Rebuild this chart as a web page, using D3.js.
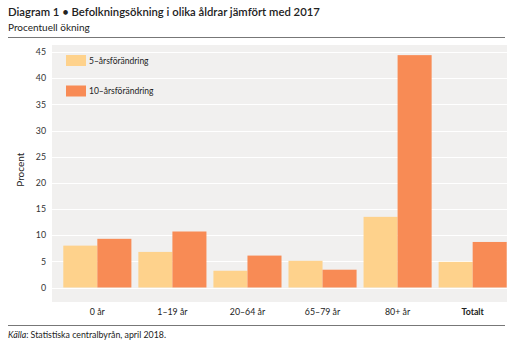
<!DOCTYPE html>
<html>
<head>
<meta charset="utf-8">
<script src="https://cdn.jsdelivr.net/npm/d3@7"></script>
<style>
  body { margin: 0; background: #fff; }
  svg { display: block; font-family: Lato, "Open Sans", sans-serif; }
</style>
</head>
<body>
<div id="chart"></div>
<script>
// data
const categories = ["0 år", "1–19 år", "20–64 år", "65–79 år", "80+ år", "Totalt"];
const series = ["5–årsförändring", "10–årsförändring"];
const change5 = [8.0, 6.8, 3.2, 5.1, 13.5, 4.9];
const change10 = [9.3, 10.7, 6.1, 3.4, 44.4, 8.7];
const yTicks = [0, 5, 10, 15, 20, 25, 30, 35, 40, 45];

const colors = ["#fed28c", "#f88b55"];

const width = 521, height = 345;

const svg = d3.select("#chart")
  .append("svg")
  .attr("width", width)
  .attr("height", height);

/* title */
svg.append("text")
  .attr("x", 8).attr("y", 16)
  .attr("font-size", 11.3)
  .attr("font-weight", 600)
  .attr("fill", "#222")
  .text("Diagram 1 • Befolkningsökning i olika åldrar jämfört med 2017");

svg.append("text")
  .attr("x", 8).attr("y", 31)
  .attr("font-size", 10)
  .attr("fill", "#222")
  .text("Procentuell ökning");

svg.append("line")
  .attr("x1", 8).attr("x2", 505)
  .attr("y1", 37.5).attr("y2", 37.5)
  .attr("stroke", "#777").attr("stroke-width", 1);

/* plot area */
const plot = { left: 52, right: 507, top: 45, bottom: 302 };

const y = d3.scaleLinear().domain([0, 45]).range([287.5, 52]);

const x0 = d3.scaleBand()
  .domain(categories)
  .range([63.3, 506.7])
  .paddingInner(0.093)
  .paddingOuter(0);

const x1 = d3.scaleBand()
  .domain(series)
  .range([0, x0.bandwidth()]);

svg.append("rect")
  .attr("x", plot.left).attr("y", plot.top)
  .attr("width", plot.right - plot.left)
  .attr("height", plot.bottom - plot.top)
  .attr("fill", "#f1f0ef");

svg.append("g")
  .selectAll("line")
  .data(yTicks)
  .join("line")
  .attr("x1", plot.left).attr("x2", plot.right)
  .attr("y1", d => Math.round(y(d)) + 0.5)
  .attr("y2", d => Math.round(y(d)) + 0.5)
  .attr("stroke", "#fff").attr("stroke-width", 1.2);

/* y axis */
const yAxis = svg.append("g")
  .attr("transform", `translate(${plot.left - 6},0)`)
  .call(d3.axisLeft(y).tickValues(yTicks).tickSize(0).tickPadding(0));
yAxis.select(".domain").remove();
yAxis.selectAll("text")
  .attr("font-size", 8.8)
  .attr("font-family", "Lato, sans-serif")
  .attr("fill", "#333");

svg.append("text")
  .attr("transform", `translate(24,${(y(0) + y(45)) / 2}) rotate(-90)`)
  .attr("text-anchor", "middle")
  .attr("font-size", 10)
  .attr("fill", "#222")
  .text("Procent");

/* bars */
const rows = categories.map((c, i) => ({ cat: c, vals: [change5[i], change10[i]] }));

svg.append("g")
  .selectAll("g")
  .data(rows)
  .join("g")
  .attr("transform", d => `translate(${x0(d.cat)},0)`)
  .selectAll("rect")
  .data(d => d.vals.map((v, j) => ({ key: series[j], v, j })))
  .join("rect")
  .attr("x", d => x1(d.key))
  .attr("y", d => y(d.v))
  .attr("width", x1.bandwidth())
  .attr("height", d => y(0) - y(d.v))
  .attr("fill", d => colors[d.j]);

/* x labels */
svg.append("g")
  .selectAll("text")
  .data(categories)
  .join("text")
  .attr("x", d => x0(d) + x0.bandwidth() / 2)
  .attr("y", 315)
  .attr("text-anchor", "middle")
  .attr("font-size", 8.8)
  .attr("font-weight", d => d === "Totalt" ? 700 : 400)
  .attr("fill", "#222")
  .text(d => d);

/* legend */
const legend = svg.append("g")
  .selectAll("g")
  .data(series)
  .join("g")
  .attr("transform", (d, i) => `translate(66,${55 + i * 30.5})`);

legend.append("rect")
  .attr("width", 20).attr("height", 11)
  .attr("fill", (d, i) => colors[i]);

legend.append("text")
  .attr("x", 23).attr("y", 8.5)
  .attr("font-size", 8.5)
  .attr("fill", "#222")
  .text(d => d);

/* footer */
svg.append("line")
  .attr("x1", 8).attr("x2", 505)
  .attr("y1", 325.5).attr("y2", 325.5)
  .attr("stroke", "#777").attr("stroke-width", 1);

const src = svg.append("text")
  .attr("x", 8).attr("y", 338)
  .attr("font-size", 8.8)
  .attr("fill", "#222");
src.append("tspan").attr("font-style", "italic").text("Källa");
src.append("tspan").text(": Statistiska centralbyrån, april 2018.");
</script>
</body>
</html>
